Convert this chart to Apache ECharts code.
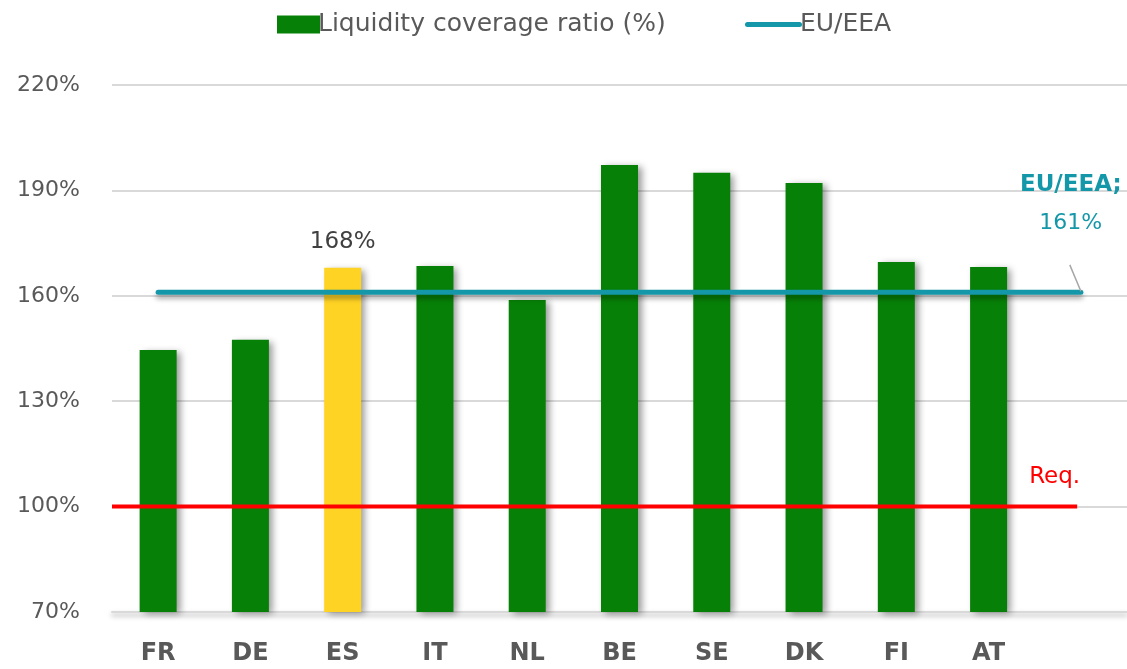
<!DOCTYPE html>
<html>
<head>
<meta charset="utf-8">
<script src="https://cdn.jsdelivr.net/npm/echarts@6/dist/echarts.min.js"></script>
<style>
  html, body { margin: 0; padding: 0; background: #fff; }
  #chart { width: 1127px; height: 669px; }
</style>
</head>
<body>
<div id="chart"></div>
<script>
const countries = ['FR', 'DE', 'ES', 'IT', 'NL', 'BE', 'SE', 'DK', 'FI', 'AT', '']
const lcrValues = [144.6, 147.5, 168, 168.5, 158.8, 197.2, 195, 192.1, 169.6, 168.2]
const highlight = 'ES'
const euAverage = 161
const requirement = 100
const yTicks = { min: 70, max: 220, step: 30 }

const GREEN = '#078007'
const YELLOW = '#FFD324'
const TEAL = '#1497A8'
const RED = '#FF0000'
const FONT = '"DejaVu Sans", sans-serif'

const chart = echarts.init(document.getElementById('chart'))

const barData = lcrValues.map((v, i) => ({
  value: v,
  itemStyle: { color: countries[i] === highlight ? YELLOW : GREEN },
  label: { show: countries[i] === highlight },
}))

// hidden value axis, one unit per category slot
const lastSlot = lcrValues.length + 0.5
const euLine = [[0.5, euAverage], [lastSlot, euAverage]]
const reqLine = [[0, requirement], [lastSlot - 0.04, requirement]]
const leaderTop = [lastSlot - 0.12, 168.8]
const leader = [leaderTop, [lastSlot, euAverage + 0.3]]

const legendText = { fontSize: 25, color: '#595959', fontFamily: FONT, padding: [0, 0, 0, -7] }

chart.setOption({
  textStyle: { fontFamily: FONT },
  legend: [
    {
      top: 7,
      left: 272,
      itemWidth: 43,
      itemHeight: 18,
      textStyle: legendText,
      data: [{ name: 'Liquidity coverage ratio (%)', icon: 'rect' }],
    },
    {
      top: 7,
      left: 740,
      itemWidth: 57,
      itemHeight: 18,
      textStyle: legendText,
      data: [{
        name: 'EU/EEA',
        icon: 'path://M2.5,0 L54.5,0 A2.5,2.5 0 0 1 54.5,5 L2.5,5 A2.5,2.5 0 0 1 2.5,0 Z',
        itemStyle: { color: TEAL },
      }],
    },
  ],
  grid: { left: 112, right: 0, top: 85, bottom: 57 },
  xAxis: [
    {
      type: 'category',
      data: countries,
      axisTick: { show: false },
      axisLine: {
        lineStyle: { color: '#D9D9D9', width: 2, shadowColor: 'rgba(0,0,0,0.35)', shadowBlur: 5, shadowOffsetY: 3 },
      },
      axisLabel: { margin: 30, fontSize: 24, fontWeight: 'bold', color: '#595959', fontFamily: FONT },
    },
    { type: 'value', min: 0, max: countries.length, show: false },
  ],
  yAxis: {
    type: 'value',
    min: yTicks.min,
    max: yTicks.max,
    interval: yTicks.step,
    axisLine: { show: false },
    axisTick: { show: false },
    splitLine: { lineStyle: { color: '#D9D9D9', width: 2 } },
    axisLabel: { margin: 32, fontSize: 22, color: '#595959', formatter: '{value}%', fontFamily: FONT },
  },
  series: [
    {
      name: 'Liquidity coverage ratio (%)',
      type: 'bar',
      data: barData,
      barWidth: 37,
      itemStyle: { color: GREEN, shadowColor: 'rgba(0,0,0,0.4)', shadowBlur: 7, shadowOffsetX: 4, shadowOffsetY: 2 },
      label: { position: 'top', distance: 14, fontSize: 23, color: '#404040', formatter: (p) => Math.round(p.value) + '%' },
      z: 2,
    },
    {
      name: 'Req.',
      type: 'line',
      xAxisIndex: 1,
      data: reqLine,
      symbol: 'none',
      lineStyle: { color: RED, width: 4 },
      endLabel: {
        show: true,
        formatter: 'Req.',
        color: RED,
        fontSize: 23,
        offset: [-56, -30],
      },
      z: 3,
    },
    {
      name: 'EU/EEA',
      type: 'line',
      xAxisIndex: 1,
      data: euLine,
      symbol: 'none',
      lineStyle: { color: TEAL, width: 5, cap: 'round', shadowColor: 'rgba(0,0,0,0.35)', shadowBlur: 5, shadowOffsetY: 4 },
      z: 4,
    },
    {
      name: 'leader',
      type: 'line',
      xAxisIndex: 1,
      data: leader,
      symbol: 'none',
      lineStyle: { color: '#A6A6A6', width: 1.5 },
      z: 5,
    },
    {
      name: 'euLabel',
      type: 'scatter',
      xAxisIndex: 1,
      data: [leaderTop],
      symbolSize: 0,
      silent: true,
      itemStyle: { opacity: 1 },
      label: {
        show: true,
        position: 'top',
        formatter: '{b|EU/EEA;}\n{n|' + euAverage + '%}',
        align: 'center',
        offset: [1, -18],
        rich: {
          b: { fontSize: 23, fontWeight: 'bold', color: TEAL, lineHeight: 38, fontFamily: FONT, align: 'center' },
          n: { fontSize: 22, color: TEAL, lineHeight: 38, fontFamily: FONT, align: 'center' },
        },
      },
      z: 5,
    },
  ],
})
</script>
</body>
</html>
